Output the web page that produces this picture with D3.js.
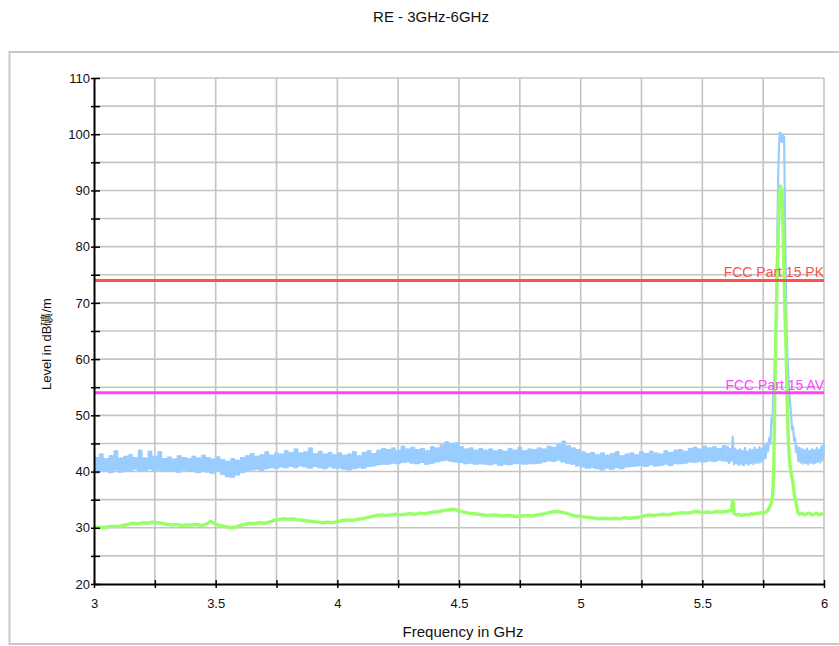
<!DOCTYPE html>
<html>
<head>
<meta charset="utf-8">
<script src="https://cdn.jsdelivr.net/npm/d3@7"></script>
<style>
  html, body { margin: 0; padding: 0; background: #fff; }
  svg { display: block; font-family: "Liberation Sans", Arial, sans-serif; }
</style>
</head>
<body>
<svg id="chart" width="839" height="646"></svg>
<script>
// ---------------- DATA ----------------
const title = "RE - 3GHz-6GHz";
const xLabel = "Frequency in GHz";
const yLabel = "Level in dB礦/m";
const xDomain = [3, 6];
const yDomain = [20, 110];
const xTickValues = [3, 3.25, 3.5, 3.75, 4, 4.25, 4.5, 4.75, 5, 5.25, 5.5, 5.75, 6];
const xTickLabels = ["3", "", "3.5", "", "4", "", "4.5", "", "5", "", "5.5", "", "6"];
const yTickValues = [20, 25, 30, 35, 40, 45, 50, 55, 60, 65, 70, 75, 80, 85, 90, 95, 100, 105, 110];
const yTickLabels = ["20", "", "30", "", "40", "", "50", "", "60", "", "70", "", "80", "", "90", "", "100", "", "110"];

const limitNames = ["FCC Part 15 PK", "FCC Part 15 AV"];
const limitLevels = [74, 54];

// Peak trace (min/max per 0.02 GHz bin, 3.00 .. 5.58 GHz)
const peakBinStart = 3.0, peakBinStep = 0.02;
const peakBinHigh = [
  42.6, 43.2, 42.4, 42.9, 43.8, 42.5, 42.8, 43.1, 42.6, 43.9,
  42.5, 43.7, 42.8, 43.6, 42.4, 42.7, 42.3, 42.9, 42.6, 42.4,
  42.8, 42.5, 43.0, 42.6, 42.3, 42.7, 42.2, 41.9, 42.4, 42.1,
  42.6, 42.9, 43.3, 42.8, 43.1, 43.6, 43.0, 43.4, 43.2, 43.8,
  43.5, 44.1, 43.4, 43.6, 44.3, 43.3, 43.7, 43.2, 43.5, 43.1,
  43.4, 43.0, 43.2, 43.6, 42.9, 43.5, 43.8, 43.3, 43.9, 44.2,
  44.0, 44.3, 43.9, 44.6, 44.1, 44.4, 44.0, 44.2, 43.8, 44.5,
  44.3, 44.8, 45.4, 44.9, 45.2, 44.5, 44.1, 44.3, 43.9, 44.2,
  43.9, 44.1, 43.8, 44.0, 43.7, 44.2, 43.9, 44.4, 43.8, 44.1,
  44.0, 44.3, 44.1, 44.6, 44.4, 44.9, 45.5, 44.7, 44.3, 44.0,
  43.6, 43.3, 43.5, 43.1, 43.4, 43.0, 43.3, 43.6, 42.9, 43.2,
  43.4, 43.1, 43.6, 43.3, 43.7, 43.4, 43.2, 43.8, 43.5, 43.9,
  44.0, 43.7, 44.2, 44.4, 44.1, 44.6, 44.3, 44.5, 44.2, 44.7
];
const peakBinLow = [
  39.6, 39.9, 40.1, 39.7, 40.2, 39.8, 40.0, 39.9, 40.3, 40.0,
  40.1, 40.3, 40.0, 40.2, 39.9, 40.1, 40.0, 39.8, 40.2, 40.0,
  40.0, 39.7, 40.1, 39.8, 39.6, 39.9, 39.4, 39.0, 38.9, 39.3,
  39.7, 40.0, 40.2, 40.3, 40.1, 40.4, 40.6, 40.5, 40.7, 40.6,
  40.8, 40.6, 40.9, 40.7, 40.5, 40.8, 40.6, 40.4, 40.7, 40.5,
  40.5, 40.3, 40.2, 40.4, 40.6, 40.5, 40.8, 40.9, 41.1, 41.2,
  41.2, 41.4, 41.3, 41.5, 41.6, 41.4, 41.3, 41.5, 41.2, 41.4,
  41.6, 41.8, 41.9, 41.7, 41.6, 41.5, 41.3, 41.4, 41.2, 41.3,
  41.2, 41.1, 41.3, 41.0, 41.2, 41.1, 41.3, 41.4, 41.2, 41.3,
  41.3, 41.4, 41.6, 41.8, 41.7, 41.9, 41.6, 41.4, 41.2, 40.9,
  40.7, 40.5, 40.6, 40.4, 40.2, 40.5, 40.3, 40.6, 40.4, 40.7,
  40.8, 40.9, 41.0, 40.8, 41.1, 40.9, 41.0, 41.2, 41.0, 41.3,
  41.3, 41.4, 41.6, 41.5, 41.7, 41.6, 41.8, 41.7, 41.9, 41.8
];
// Peak trace detail 5.60 .. 6.00 GHz
const peakDetailFreq = [
  5.600, 5.605, 5.610, 5.615, 5.620, 5.625, 5.630, 5.635, 5.640, 5.645,
  5.650, 5.655, 5.660, 5.665, 5.670, 5.675, 5.680, 5.685, 5.690, 5.695,
  5.700, 5.705, 5.710, 5.715, 5.720, 5.725, 5.730, 5.735, 5.740, 5.745,
  5.750, 5.755, 5.760, 5.765, 5.770, 5.775, 5.780, 5.784, 5.788, 5.792,
  5.796, 5.800, 5.803, 5.806, 5.809, 5.812, 5.815, 5.818, 5.821, 5.824,
  5.827, 5.830, 5.833, 5.836, 5.838, 5.840, 5.843, 5.846, 5.849, 5.853,
  5.857, 5.861, 5.865, 5.869, 5.873, 5.877, 5.881, 5.885, 5.890, 5.895,
  5.900, 5.905, 5.910, 5.915, 5.920, 5.925, 5.930, 5.935, 5.940, 5.945,
  5.950, 5.955, 5.960, 5.965, 5.970, 5.975, 5.980, 5.985, 5.990, 5.995, 6.000
];
const peakDetailLevel = [
  41.7, 44.4, 41.5, 44.0, 41.9, 46.2, 41.3, 44.1, 41.4, 43.8,
  41.2, 44.0, 41.3, 43.7, 41.1, 44.2, 41.4, 43.6, 41.2, 44.0,
  41.5, 43.8, 41.3, 44.3, 41.6, 43.9, 41.5, 44.4, 41.7, 44.1,
  42.0, 44.6, 42.4, 45.0, 43.6, 46.0, 45.0, 49.5, 48.5, 54.5,
  57.0, 62.0, 68.0, 76.0, 85.0, 93.0, 98.0, 100.3, 98.8, 100.1,
  98.6, 99.8, 98.9, 99.6, 92.0, 84.0, 74.0, 66.0, 61.5, 57.5,
  54.5, 52.0, 50.0, 47.5, 48.0, 45.5, 46.0, 43.5, 44.5, 41.8,
  44.2, 41.6, 44.0, 41.4, 43.8, 41.5, 44.1, 41.3, 43.7, 41.6,
  44.0, 41.4, 43.8, 41.5, 44.2, 41.7, 43.9, 41.6, 44.5, 42.0, 45.0
];

// Average trace, 0.02 GHz steps 3.00 .. 5.58 GHz
const avgStart = 3.0, avgStep = 0.02;
const avgLevel = [
  30.0, 30.1, 30.0, 30.2, 30.3, 30.2, 30.4, 30.6, 30.8, 30.7,
  30.9, 30.8, 31.0, 30.9, 30.8, 30.6, 30.5, 30.6, 30.4, 30.5,
  30.5, 30.6, 30.4, 30.6, 31.2, 30.6, 30.4, 30.2, 30.0, 30.1,
  30.4, 30.6, 30.8, 30.7, 30.9, 30.8, 31.0, 31.3, 31.5, 31.6,
  31.5, 31.6, 31.4, 31.3, 31.2, 31.1, 31.0, 30.9, 31.0, 30.9,
  31.1, 31.3, 31.4, 31.3, 31.5, 31.6, 31.8, 32.0, 32.2, 32.3,
  32.2, 32.3, 32.4, 32.3, 32.4, 32.5, 32.4, 32.6, 32.5, 32.7,
  32.8, 32.9, 33.1, 33.2, 33.3, 33.0, 32.8, 32.6, 32.5, 32.4,
  32.3, 32.2, 32.3, 32.2, 32.1, 32.2, 32.1, 32.0, 32.1, 32.2,
  32.1, 32.3, 32.4, 32.6, 32.8, 32.9, 32.8, 32.6, 32.3, 32.1,
  32.0, 31.9, 31.8, 31.7, 31.6, 31.7, 31.6, 31.7, 31.6, 31.8,
  31.7, 31.8, 31.9, 32.1, 32.3, 32.2, 32.3, 32.4, 32.3, 32.5,
  32.6, 32.7, 32.6, 32.8, 32.9, 32.7, 32.8, 32.7, 32.9, 32.8
];
// Average trace detail 5.60 .. 6.00 GHz
const avgDetailFreq = [
  5.600, 5.610, 5.620, 5.624, 5.627, 5.630, 5.640, 5.650, 5.660, 5.670,
  5.680, 5.690, 5.700, 5.710, 5.720, 5.730, 5.740, 5.750, 5.760, 5.768,
  5.775, 5.782, 5.788, 5.791, 5.794, 5.797, 5.800, 5.804, 5.808, 5.813,
  5.817, 5.821, 5.824, 5.828, 5.831, 5.835, 5.838, 5.841, 5.844, 5.847,
  5.850, 5.854, 5.858, 5.862, 5.866, 5.870, 5.874, 5.878, 5.882, 5.887,
  5.892, 5.900, 5.910, 5.920, 5.930, 5.940, 5.950, 5.960, 5.970, 5.980,
  5.990, 6.000
];
const avgDetailLevel = [
  32.9, 33.0, 33.1, 34.9, 34.6, 32.6, 32.3, 32.4, 32.2, 32.3,
  32.4, 32.3, 32.5, 32.4, 32.6, 32.5, 32.7, 32.6, 32.8, 33.0,
  33.6, 34.2, 35.5, 37.5, 42.0, 52.0, 60.0, 68.0, 76.0, 84.0,
  89.0, 90.8, 90.2, 89.5, 84.0, 77.0, 71.0, 66.0, 62.0, 56.0,
  50.0, 45.0, 42.0, 40.5, 39.5, 38.5, 37.5, 36.0, 35.0, 34.0,
  32.8, 32.4, 32.6, 32.3, 32.5, 32.6, 32.3, 32.4, 32.6, 32.3,
  32.5, 32.4
];

// ---------------- DRAW ----------------
const svg = d3.select("#chart");
const margin = { left: 94, right: 15, top: 78, bottom: 62 };
const W = 839, H = 646;
const x = d3.scaleLinear().domain(xDomain).range([margin.left, W - margin.right]);
const y = d3.scaleLinear().domain(yDomain).range([H - margin.bottom, margin.top]);

// frame
svg.append("path")
  .attr("d", `M${W},52 H9.5 V644 H${W}`)
  .attr("fill", "none").attr("stroke", "#c8c8c8").attr("stroke-width", 2);

// title
svg.append("text").attr("x", 431).attr("y", 22)
  .attr("text-anchor", "middle").attr("font-size", 15).attr("fill", "#111").text(title);

// grid
const grid = svg.append("g").attr("stroke", "#c4c4c4").attr("stroke-width", 1.6);
xTickValues.filter(v => v > xDomain[0]).forEach(v => {
  grid.append("line").attr("x1", x(v)).attr("x2", x(v)).attr("y1", y(yDomain[0])).attr("y2", y(yDomain[1]));
});
yTickValues.filter(v => v > yDomain[0]).forEach(v => {
  grid.append("line").attr("x1", x(xDomain[0])).attr("x2", x(xDomain[1])).attr("y1", y(v)).attr("y2", y(v));
});

// peak trace: binned min/max as a stepped band, then the detailed section as a line
const bins = peakBinLow.map((lo, i) => ({ f: peakBinStart + i * peakBinStep, lo: lo, hi: peakBinHigh[i] }));
bins.push({ f: peakDetailFreq[0], lo: peakDetailLevel[0], hi: peakDetailLevel[1] });
const band = d3.area().curve(d3.curveStepAfter)
  .x(d => x(d.f)).y0(d => y(d.lo)).y1(d => y(d.hi));
svg.append("path").datum(bins).attr("d", band).attr("fill", "#99ccff");

const zig = [];
bins.forEach((b, i) => { zig.push([b.f, b.lo]); zig.push([b.f + peakBinStep / 2, b.hi]); });
const line = d3.line().x(d => x(d[0])).y(d => y(d[1]));
svg.append("path").datum(zig.slice(0, -2)).attr("d", line)
  .attr("fill", "none").attr("stroke", "#99ccff").attr("stroke-width", 1);

const detail = peakDetailFreq.map((f, i) => [f, peakDetailLevel[i]]);
svg.append("path").datum(detail).attr("d", line)
  .attr("fill", "none").attr("stroke", "#99ccff").attr("stroke-width", 2.2).attr("stroke-linejoin", "round");

// average trace
const avgPts = avgLevel.map((v, i) => [avgStart + i * avgStep, v]);
avgDetailFreq.forEach((f, i) => avgPts.push([f, avgDetailLevel[i]]));
svg.append("path").datum(avgPts).attr("d", line)
  .attr("fill", "none").attr("stroke", "#99ff66").attr("stroke-width", 3.4).attr("stroke-linejoin", "round");

// limit lines
const limitColors = ["#ff5050", "#ff44ff"];
limitLevels.forEach((lv, i) => {
  svg.append("line").attr("x1", x(xDomain[0])).attr("x2", x(xDomain[1]))
    .attr("y1", y(lv)).attr("y2", y(lv))
    .attr("stroke", limitColors[i]).attr("stroke-width", 3);
  svg.append("text").attr("x", x(xDomain[1])).attr("y", y(lv) - 3)
    .attr("text-anchor", "end").attr("font-size", 14).attr("fill", limitColors[i]).text(limitNames[i]);
});

// axes
const yAxis = d3.axisLeft(y).tickValues(yTickValues)
  .tickFormat((d, i) => yTickLabels[i]).tickSizeInner(3).tickSizeOuter(0).tickPadding(1);
const gy = svg.append("g").attr("transform", `translate(${margin.left},0)`).call(yAxis);
gy.selectAll(".tick line").attr("x1", 6).attr("stroke", "#000").attr("stroke-width", 1.5);
gy.select(".domain").attr("stroke", "#000").attr("stroke-width", 2);
gy.selectAll("text").attr("font-size", 13).attr("fill", "#111")
  .attr("font-family", "Liberation Sans, Arial, sans-serif");

const xAxis = d3.axisBottom(x).tickValues(xTickValues)
  .tickFormat((d, i) => xTickLabels[i]).tickSizeInner(4).tickSizeOuter(0).tickPadding(11);
const gx = svg.append("g").attr("transform", `translate(0,${y(yDomain[0])})`).call(xAxis);
gx.selectAll(".tick line").attr("y1", -4).attr("stroke", "#000").attr("stroke-width", 1.5);
gx.select(".domain").attr("stroke", "#000").attr("stroke-width", 2);
gx.selectAll("text").attr("font-size", 13).attr("fill", "#111")
  .attr("font-family", "Liberation Sans, Arial, sans-serif");

// axis labels
svg.append("text").attr("x", (x(xDomain[0]) + x(xDomain[1])) / 2 + 4).attr("y", 637)
  .attr("text-anchor", "middle").attr("font-size", 15).attr("fill", "#111").text(xLabel);
svg.append("text")
  .attr("transform", `translate(51,${(y(yDomain[0]) + y(yDomain[1])) / 2 + 13}) rotate(-90)`)
  .attr("text-anchor", "middle").attr("font-size", 13).attr("fill", "#111").text(yLabel);
</script>
</body>
</html>
